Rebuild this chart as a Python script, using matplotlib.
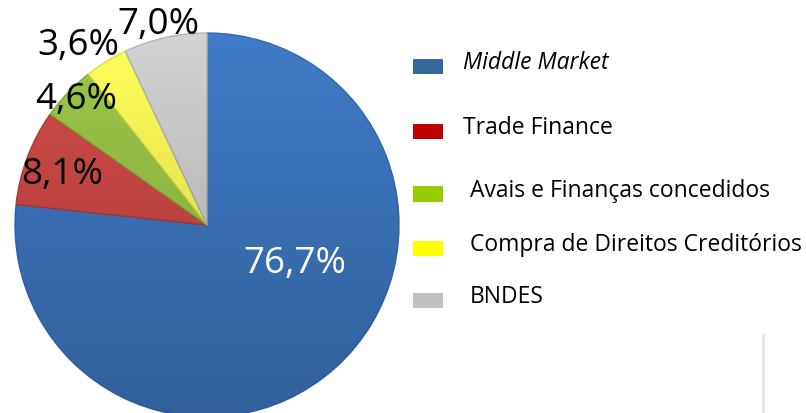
import matplotlib
matplotlib.use('Agg')
import matplotlib.pyplot as plt
import numpy as np
from matplotlib.patches import Rectangle, Circle

# Data
labels = ['Middle Market', 'Trade Finance', 'Avais e Finanças concedidos',
          'Compra de Direitos Creditórios', 'BNDES']
shares = [76.7, 8.1, 4.6, 3.6, 7.0]
pct_text = ['76,7%', '8,1%', '4,6%', '3,6%', '7,0%']

# Style
wedge_colors = ['#3f7bc6', '#d24b48', '#9ec94a', '#ffff5a', '#d2d2d2']
edge_colors = ['#356aae', '#b03e3b', '#86ad3c', '#dede48', '#b4b4b4']
legend_colors = ['#336699', '#c00000', '#99cc00', '#ffff00', '#c0c0c0']
pct_colors = ['white', 'black', 'black', 'black', 'black']
pct_pos = [(0.46, -0.20), (-0.755, 0.266), (-0.68, 0.656), (-0.67, 0.94), (-0.255, 1.047)]
legend_y = [67, 132, 195, 249, 301]      # px from top
legend_text_x = [463, 463, 470, 470, 470]
legend_italic = [True, False, False, False, False]

plt.rcParams['font.family'] = ['Open Sans', 'DejaVu Sans']

W, H = 806, 414
fig = plt.figure(figsize=(W / 100, H / 100), dpi=100)

# Pie
cx, cy, R = 207, 226, 192
ax = fig.add_axes([(cx - R) / W, (H - cy - R) / H, 2 * R / W, 2 * R / H])
wedges, _ = ax.pie(shares, colors=wedge_colors, startangle=90, counterclock=False,
                   radius=1.0, wedgeprops=dict(linewidth=1.0))
for w, ec in zip(wedges, edge_colors):
    w.set_edgecolor(ec)

# soft shading: lighter at top, darker at bottom
g = np.linspace(0, 1, 256)[:, None] * np.ones((1, 8))
shade = np.zeros((256, 8, 4))
shade[..., 3] = 0.22 * g
im = ax.imshow(shade, extent=(-1, 1, -1, 1), origin='upper', zorder=3, interpolation='bilinear')
im.set_clip_path(Circle((0, 0), 1.0, transform=ax.transData))
ax.set_xlim(-1, 1)
ax.set_ylim(-1, 1)
ax.set_aspect('equal')
ax.axis('off')

for txt, (x, y), c in zip(pct_text, pct_pos, pct_colors):
    ax.text(x, y, txt, color=c, fontsize=26.5, ha='center', va='center', zorder=5)

# Legend
for lab, col, y, tx, it in zip(labels, legend_colors, legend_y, legend_text_x, legend_italic):
    fig.patches.append(Rectangle((413 / W, (H - y - 7.5) / H), 30 / W, 15 / H,
                                 transform=fig.transFigure, facecolor=col, edgecolor='none'))
    fig.text(tx / W, (H - y + 4) / H, lab, fontsize=16.5, va='center', ha='left',
             style='italic' if it else 'normal', color='black')

# faint vertical line at lower right
fig.add_artist(plt.Line2D([763 / W, 763 / W], [0, 78 / H], color='#e6e6e6', lw=2,
                          transform=fig.transFigure))

fig.savefig('out.png', dpi=100)
